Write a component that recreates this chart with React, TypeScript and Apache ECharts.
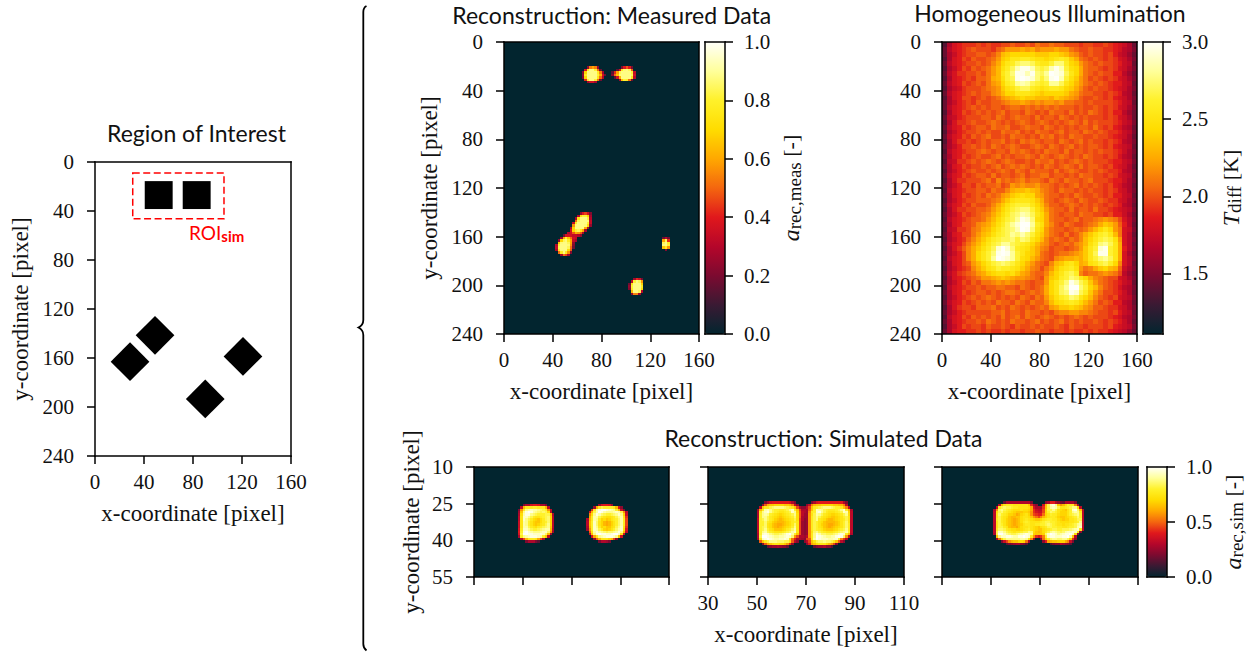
import React, { useEffect, useRef } from "react";
import * as echarts from "echarts";

const HOT = ["#02252f", "#3a1a33", "#7c0a30", "#b5062a", "#e0181c", "#f4660f", "#ffa800", "#ffdc00", "#fff12a", "#ffff9a", "#fffffa"];
const SERIF = "Liberation Serif";
const SANS = "Lato";

// Region of interest: [centre x, centre y, half size]
const roiSquares = [[52, 27, 11.4], [83, 27, 11.4]];
const roiDiamonds = [[49, 141.5, 15.8], [28.6, 163, 15.8], [120.8, 158.7, 15.8], [90, 193.4, 15.8]];
const roiBox = [[30.8, 9, 105.3, 46.4]];

const simXTicks = [30, 50, 70, 90, 110];
const simYTicks = [10, 25, 40, 55];
const tempTicks = [1.5, 2.0, 2.5, 3.0];
const simBarTicks = [0, 0.5, 1.0];

// Amplitudes: one base-36 character per cell (0 -> 0.0, z -> 1.0), "." is empty
const measBlobA = { x: 64, y: 20, rows: ["..8iki8...", ".dqvvrh6..", "7nvxxvqi9.", "8qwyywrlc6", "7nvxxvpha.", ".erwwrh6..", "..9cc9...."] };
const measBlobB = { x: 88, y: 20, rows: ["....7dgd6..", "..5cqtvsg..", "5ekswxyxrb.", "7hmtxyyxsc.", ".5cluwxwpa.", "...9mrqh6.."] };
const measBlobC = { x: 42, y: 138, rows: ["...............", "..........8dfc7", ".........aorrn9", "........9pvxvra", "........hswyxtb", ".......bqvyyvrb", ".......jtxyxto8", "......9nuwwuk9.", "......cnrspk9..", ".....acgkjg9...", "...6cccbba8....", "..8krmhcb......", ".8nstqkb9......", ".mtxwsk8.......", "aryyxtj7.......", "bsyyxsh6.......", "9qwxvog........", ".hquqj7........", "..9hf9........."] };
const measBlobD = { x: 128, y: 160, rows: [".6a6", ".kse", ".sxq", ".txr", ".mqj", "..7."] };
const measBlobE = { x: 102, y: 194, rows: ["..9ec6", ".brwsj", "6pwyvn", "8rxyxq", "7qxywo", ".lvxsa", ".8ii9."] };

// Temperature: one base-36 character per 4x4 cell
const tempRows = [
  "5adefffgfgffgghgghgihhihhgggfggffgfedca6",
  "6bdefghgggfhikkklkljkkklkkihgghggffedba7",
  "6acefgghhghjmnooooonnnoonmkjhghggfgecb96",
  "5adegfhgghiknoqqrrqppopqrqnlihghgfgfdca7",
  "6bdefgghghjloqrtuutrqqsuuronkihghggfecb6",
  "5acegfhghikmprtwyywtstwywspolihhgfgfdca7",
  "6bdffgghgikmqsuyywyutvzyxtqolihghggeeb96",
  "5adefgfhhilmpstyzyxusuyzwspnkighgfgfdca7",
  "6bdegfghgiklorsvwvtsrsvvtqomkihghgfeecb6",
  "5acdfggghijknpqsttrqpqrrqonljhghggfedca7",
  "6bdefghghhjkmooqqqponoooonlkihhggfgfeba6",
  "5adeggfghghiklmnonnmmmlnmlkjhgghgfgedca7",
  "6acefgfhgghhijkklkjkjkkjkiihhghggggfecb6",
  "6bdefghghghhghiihihihihihhhghgghgfgfdca7",
  "5adegfghghghighhgihghgihhgighgihgfgeeb96",
  "6bcefggghhgihghihhgighhgihghghgggfgfdca6",
  "5adffghgghihghghihghihghghihgighgggfecb7",
  "6bdegfghhgihhigghihhgihghghghhgigfgedba6",
  "5acefgghghggihhighgihhghighhgihghgffecb7",
  "6bdegfhghigghgihhghgihighgihhgghggfedca6",
  "5adffgfghghhighgihihghhgihghighggfgfeba7",
  "6acegghghgihghihgghihgihghighghhgfgedcb6",
  "5bdefgghihghhgihihghgihhgighhghghggfeca7",
  "6adegfghgghighghhihgihghihghgihggfgfdba6",
  "5bcffghghihghihgghgihhighghihghgggfeecb7",
  "6adegfgghghighihihghgihghihgighhgfgedca6",
  "5acefghgghghihgihgihhhgighihgghghgffeba7",
  "6bdegfghhgighhghighhiighhghgihhggfgfdcb6",
  "5adffggghigjhihijhiihgihgihhghigggfeeca7",
  "6aceggfhghhighkjkjjkiihghghighghgfgedba6",
  "5bdefgghhgihhjlmmnmljihgihhghghggfgfdca7",
  "6adegfghgihiklnopoolkihhghgihgghgfgeecb6",
  "5acefgghhhijlnpqqqpnlihghihgihgghgffdca7",
  "6bdegfhgghjlnprsssqomjhhghihghghgfgfeba6",
  "5adffgghhikmoqstuuspnkihhgighhgiggfedcb7",
  "6acegfghijlnprtuwvtqolihghhgihhggfgeeca6",
  "5bdefghhikmoqstvyxupolihhghighhijkjigdb7",
  "6adegghjklnprtvxzzvrpljhgihgghijlnmkheb6",
  "5bcffgijlmoqstuwzyuqokihhghihikmoqokidc7",
  "6adeggikmnprstvuwuspnkihgighjlnprsqmidb6",
  "5acefhjlnprsttusutqomjhihgihjmoqstspkdb7",
  "6bdegikmoqstvvtsrqomkjhghihjkmpruvtqldb6",
  "5adfhjlnprtxzxurqpnljighhghiknqsxysqleb7",
  "6acegjloqsuyzyvsqonlihghiijklnqtyysqlda6",
  "5bdegjloqsvzyxvspomkihgjkllmlnqsuvtqldb7",
  "6adeghkmoqstutsqomkihgjmnpqolmpqstrojdb6",
  "5acefgjlnpqsrrqpnljigiknpqrpkijlnomlhca7",
  "6bdfghiklnoppopnlkihhjmoqstrjhiijkjigb96",
  "5adefghikklmnmlkkjihgknorsutqoljihggdca7",
  "6acegfhgiijkjkjiihghhkoqsuywtrnkihgfecb6",
  "5bdefgghghhiihhgihghiloqtvzzusomjhgfdba7",
  "6adegfghhghghiihghihiloqtuyxtrnkiggfeca6",
  "5acefghghihghghgihgihknprsutqomjhgfgdcb7",
  "6bdegfghghgihhgihgihhjmopqrqomkighgeeba6",
  "5adfggfhhhighgihghghihklnnonmkjhhgffdca7",
  "6acefggggghhighhgihhghgijjkkjjihggfgecb6",
  "5bdegfhghghgighigihghihghghihghgggfedba7",
  "6adefgghgihghgihhghighghighghgghgfgfeca6",
  "5acegfggfhgghgfhgghghgghgfhggfgggfgedcb7",
  "6adeeffgfgffgfggfgghggfggfgffgfgffedcb96",
];

// Simulated amplitudes: one base-36 character per 1x1 cell
const simLeftA = { x: 47, y: 25, rows: ["...7aadeedaa7...", "..bmrrrssrrrmb..", ".7krvwxwwvutskb.", ".9nvyzywvututpb.", ".apwyyvutsssttna", ".bqxxvtrqqrstuob", ".bqxvtrponprtuob", ".cqwvsqonnprsuob", ".cqwvsqonoqrtvob", ".cqwwtrqprstuvnb", ".drxxvtsstuvwwma", ".esyzxwvvvwxxuk9", ".dtzzyyxxxyxum9.", ".arvwxyyyxwsnb..", "..agmqrrqlga....", "....7aaa75......"] };
const simLeftB = { x: 76, y: 25, rows: [".....9deed9......", "...9lrtssssrmd8..", "..frwyzzyxwvsmc7.", ".dmtwzywvvvwxwtkb", ".jpvywutsstuvxvoc", ".lrwwtrqppqrtvwqf", "amrwvropnoqrsuwrg", "bnsxuqomlmoqsuwrg", "bnsxuqomlmoqsuwrg", "amsxvropnnpqtvxqf", "9ksxwtronoqsuwxpd", ".hqwywvutuuvwyvmb", ".cnvyzyyxxyzzxqd.", "..dlrvwxyyyxvnc..", "...8hmqqqomg8....", ".....7aa97......"] };
const simMiddle = { x: 50, y: 24, rows: ["...7adeeeeeeeda7......7adeeeeeeeeeea7...", "..9hmnnoooonnmjc8...8cjmnnooooonnmmjb...", ".bnrrtuvvvvutsrnga88bgnrstuvvvutssrnjb..", "9mrwxvtssrrstvxsngaa9hnsxwvtsrrrstvxsma", "arvxyvtsrqqrstxvohba9jrsxyvtrqqqrstxwob", "asvwvsrqpopqrstvphb99kqtwvtrqpoopqrtvpb", "asvvtrqponopqrsupha99krtvtrqponnopqstqb", "bstvtrqonmnopqrtpga89krtvrqpnmmnopqrtqb", "bssurqonmmmnoprsqg989krtsqpnmmmmnoqsuqb", "bssuqpnmllmnopruqg989krtsqonmllmnoqsurb", "bstuqpnmlmnopqsvqg989krtsqpnmlmnopqsurb", "bstvsqpnnnoprsuwqg989krtsrqonnnoprstvrb", "bsvwtsrqqqrstuwxqg989kquvtsrqqqrstuvwsb", "asxyxvuttuvwyzwsng989krvywuutttuvxyxrma", "atzzyxwvvwwxyxukgaa9bkrvzyxwvvwwyzyukb", "9qxyzyxwwxxyxrie9a98ghrwzyxxxwwxxsjfa.", ".hnrtvvvuuuttqhb8..8bgnqtuuvuutrnhb8...", "..8hlnpqqppnkf8.....8elnpqqqomkg8.....", "....6899a9886..........6899a885...."] };
const simRight = { x: 51, y: 24, rows: ["....6aaaaaaaaaa7.....8aeea876aaaa7...", "..bmqrrrqqqqqqnfa8..dmtxyvnkmpsrrj9..", ".brtuttsrrqqqqpldaa9fntwxwtqqrstvvpb.", "akuvtsrqpppqppolfcbbgottvtqponqsxyunb", "bptusrqponnnoonkfdccgosutsqoooqsvwvrb", "bqusrqoonlmopqokgfeeioqsrrpoooqstuvsb", "bqtrqpnmmnnpqqpnkigjmoqrrqonnopqrsusb", "brtrqonmlmnpqrqponnoqrssrrponooqqrttb", "bqtrqonmlmnprsrqqqqrsttssrqppppqqrsvb", "bqtsqonmlmnoqrrqqrrsstutsrqqpqqrstvwb", "bqttrqnmmlnpqqrqponpqrttssrrqqrsstwxb", "bruutrqppoopqrsqponnpqrsttsstttuvwxrb", "btxxvtsrqrrsttvupnmnprtvwvutuwxxyxr8.", "atzzxvuttuvwxyxvonnnouxzyxvwxyyzxp8.", ".nvxxyyxwwyyzyxrkfdfjsxyyxxxyyzwnb..", ".9iptvvvvvvwwvqj9..8iosuvvuuvvtof8..", "...7cgkmnnppoi9.....8elmnnoooljc7...", ".....5789aa875.........5788a9875...."] };

const measBlobs = [measBlobA, measBlobB, measBlobC, measBlobD, measBlobE];

function decodeBlock(block: { x: number; y: number; rows: string[] }, cell: number, scale: (k: number) => number) {
  const out: number[][] = [];
  block.rows.forEach((row, j) => {
    for (let i = 0; i < row.length; i++) {
      if (row[i] === ".") continue;
      out.push([block.x + i * cell, block.y + j * cell, scale(parseInt(row[i], 36))]);
    }
  });
  return out;
}
const unit = (k: number) => k / 35;
const measUnit = (k: number) => Math.min((k / 35) * 1.05, 0.88);
const kelvin = (k: number) => 1.1 + 0.055 * k;

function cellRenderer(size: number) {
  return (_p: any, api: any) => {
    const x = api.value(0);
    const y = api.value(1);
    const a = api.coord([x, y]);
    const b = api.coord([x + size, y + size]);
    const x0 = Math.round(a[0]);
    const y0 = Math.round(a[1]);
    return {
      type: "rect",
      shape: { x: x0, y: y0, width: Math.round(b[0]) - x0, height: Math.round(b[1]) - y0 },
      style: { fill: api.visual("color") },
    };
  };
}

const line = { lineStyle: { color: "#000", width: 1.5, cap: "square" }, onZero: false };
const tick = { show: true, length: 8, lineStyle: { color: "#000", width: 1.5 } };
const labelX = { color: "#111", fontFamily: SERIF, fontSize: 21, margin: 15 };
const labelY = { color: "#111", fontFamily: SERIF, fontSize: 21, margin: 21 };
const labelBar = { color: "#111", fontFamily: SERIF, fontSize: 21, margin: 19 };
const nameStyle = { color: "#111", fontFamily: SERIF, fontSize: 23 };
const barRich = {
  i: { fontFamily: SERIF, fontStyle: "italic", fontSize: 24, color: "#111" },
  s: { fontFamily: SERIF, fontSize: 19, color: "#111", padding: [8, 0, 0, 0] },
  t: { fontFamily: SERIF, fontSize: 22, color: "#111" },
};

function App() {
  const ref = useRef<HTMLDivElement>(null);
  useEffect(() => {
    if (!ref.current) return;
    document.body.style.margin = "0";
    echarts.graphic.registerShape(
      "brace",
      echarts.graphic.extendPath(
        "M366.5 6 C364.5 7 363.3 9 363.3 12 L363.3 320 C363.3 324 361.5 326 358.5 327.5 C361.5 329 363.3 331 363.3 335 L363.3 644 C363.3 647 364.5 649 366.5 650.5",
        {}
      ) as any
    );
    const chart = echarts.init(ref.current, undefined, { renderer: "svg" });

    const grids: any[] = [];
    const xAxes: any[] = [];
    const yAxes: any[] = [];
    const series: any[] = [];

    function addPanel(r: number[], bg: string | null, xCfg: any, yCfg: any) {
      const g = grids.length;
      grids.push({
        left: r[0], top: r[1], width: r[2] - r[0], height: r[3] - r[1],
        show: !!bg, backgroundColor: bg || "transparent", borderWidth: 0,
      });
      const xi = xAxes.length;
      const yi = yAxes.length;
      const xBase = { type: "value", gridIndex: g, min: xCfg.min, max: xCfg.max, splitLine: { show: false }, z: 10 };
      const yBase = { type: "value", gridIndex: g, min: yCfg.min, max: yCfg.max, inverse: yCfg.inverse, splitLine: { show: false }, z: 10 };
      xAxes.push({ ...xBase, position: "bottom", axisLine: line, ...xCfg.main });
      xAxes.push({ ...xBase, position: "top", axisLine: line, axisTick: { show: false }, axisLabel: { show: false } });
      yAxes.push({ ...yBase, position: "left", axisLine: line, ...yCfg.left });
      yAxes.push({ ...yBase, position: "right", axisLine: line, ...(yCfg.right || { axisTick: { show: false }, axisLabel: { show: false } }) });
      return { xi, yi };
    }

    const fullX = () => ({
      min: 0, max: 160,
      main: {
        interval: 40, axisTick: tick, axisLabel: labelX,
        name: "x-coordinate [pixel]", nameLocation: "middle", nameGap: 46, nameTextStyle: nameStyle,
      },
    });
    const fullY = (gap: number) => ({
      min: 0, max: 240, inverse: true,
      left: {
        interval: 40, axisTick: tick, axisLabel: labelY,
        name: "y-coordinate [pixel]", nameLocation: "middle", nameGap: gap, nameTextStyle: nameStyle,
      },
    });
    const simX = (shown: boolean) => ({
      min: 30, max: 110,
      main: {
        axisTick: { ...tick, customValues: simXTicks },
        axisLabel: shown ? { ...labelX, customValues: simXTicks } : { show: false, customValues: simXTicks },
        ...(shown ? { name: "x-coordinate [pixel]", nameLocation: "middle", nameGap: 46, nameTextStyle: nameStyle } : {}),
      },
    });
    const simY = (shown: boolean) => ({
      min: 10, max: 55, inverse: true,
      left: {
        axisTick: { ...tick, customValues: simYTicks },
        axisLabel: shown ? { ...labelY, customValues: simYTicks } : { show: false, customValues: simYTicks },
        ...(shown ? { name: "y-coordinate [pixel]", nameLocation: "middle", nameGap: 51, nameTextStyle: nameStyle } : {}),
      },
    });

    // Region of interest
    const p0 = addPanel([95, 162, 291, 456], null, fullX(), fullY(63));
    series.push({
      type: "custom", xAxisIndex: p0.xi, yAxisIndex: p0.yi, silent: true, data: roiSquares,
      renderItem: (_p: any, api: any) => {
        const [cx, cy, h] = [api.value(0), api.value(1), api.value(2)];
        return { type: "polygon", shape: { points: [[cx - h, cy - h], [cx + h, cy - h], [cx + h, cy + h], [cx - h, cy + h]].map((q) => api.coord(q)) }, style: { fill: "#000" } };
      },
    });
    series.push({
      type: "custom", xAxisIndex: p0.xi, yAxisIndex: p0.yi, silent: true, data: roiDiamonds,
      renderItem: (_p: any, api: any) => {
        const [cx, cy, h] = [api.value(0), api.value(1), api.value(2)];
        return { type: "polygon", shape: { points: [[cx, cy - h], [cx + h, cy], [cx, cy + h], [cx - h, cy]].map((q) => api.coord(q)) }, style: { fill: "#000" } };
      },
    });
    series.push({
      type: "custom", xAxisIndex: p0.xi, yAxisIndex: p0.yi, silent: true, data: roiBox,
      renderItem: (_p: any, api: any) => {
        const a = api.coord([api.value(0), api.value(1)]);
        const b = api.coord([api.value(2), api.value(3)]);
        return { type: "rect", shape: { x: a[0], y: a[1], width: b[0] - a[0], height: b[1] - a[1] }, style: { fill: "none", stroke: "#ff0000", lineWidth: 1.5, lineDash: [7, 3.5] } };
      },
    });

    // Measured
    const p1 = addPanel([504, 42, 699, 334], HOT[0], fullX(), fullY(63));
    const measIdx = series.length;
    series.push({
      type: "custom", xAxisIndex: p1.xi, yAxisIndex: p1.yi, silent: true,
      data: measBlobs.flatMap((b) => decodeBlock(b, 2, measUnit)),
      renderItem: cellRenderer(2), encode: { x: 0, y: 1 },
    });
    // Temperature
    const p2 = addPanel([942, 42, 1137, 334], null, fullX(), {
      min: 0, max: 240, inverse: true,
      left: { interval: 40, axisTick: tick, axisLabel: labelY },
    });
    const tempIdx = series.length;
    series.push({
      type: "custom", xAxisIndex: p2.xi, yAxisIndex: p2.yi, silent: true,
      data: decodeBlock({ x: 0, y: 0, rows: tempRows }, 4, kelvin),
      renderItem: cellRenderer(4), encode: { x: 0, y: 1 },
    });
    // Simulated
    const s0 = addPanel([474, 467, 669, 577], HOT[0], simX(false), simY(true));
    const s1 = addPanel([708, 467, 904, 577], HOT[0], simX(true), simY(false));
    const s2 = addPanel([942, 467, 1138, 577], HOT[0], simX(false), simY(false));
    const simIdx = [series.length, series.length + 1, series.length + 2];
    series.push({
      type: "custom", xAxisIndex: s0.xi, yAxisIndex: s0.yi, silent: true,
      data: [...decodeBlock(simLeftA, 1, unit), ...decodeBlock(simLeftB, 1, unit)],
      renderItem: cellRenderer(1), encode: { x: 0, y: 1 },
    });
    series.push({
      type: "custom", xAxisIndex: s1.xi, yAxisIndex: s1.yi, silent: true,
      data: decodeBlock(simMiddle, 1, unit), renderItem: cellRenderer(1), encode: { x: 0, y: 1 },
    });
    series.push({
      type: "custom", xAxisIndex: s2.xi, yAxisIndex: s2.yi, silent: true,
      data: decodeBlock(simRight, 1, unit), renderItem: cellRenderer(1), encode: { x: 0, y: 1 },
    });

    // Colour bars (ticks and frame as axes, gradient from visualMap)
    function addBar(r: number[], min: number, max: number, right: any) {
      addPanel(r, null, { min: 0, max: 1, main: { axisTick: { show: false }, axisLabel: { show: false } } }, {
        min, max,
        left: { axisTick: { show: false }, axisLabel: { show: false } },
        right: {
          axisTick: tick,
          axisLabel: { ...labelBar, formatter: (v: number) => v.toFixed(1) },
          nameLocation: "middle", nameRotate: 90, nameTextStyle: { rich: barRich },
          ...right,
        },
      });
    }
    addBar([705, 42, 725, 334], 0, 1, { interval: 0.2, name: "{i|a}{s|rec,meas}{t| [-]}", nameGap: 52 });
    addBar([1143, 42, 1163, 334], 1.107, 3, {
      axisTick: { ...tick, customValues: tempTicks },
      axisLabel: { ...labelBar, formatter: (v: number) => v.toFixed(1), customValues: tempTicks },
      name: "{i|T}{s|diff}{t| [K]}", nameGap: 54,
    });
    addBar([1147, 467, 1167, 577], 0, 1, {
      axisTick: { ...tick, customValues: simBarTicks },
      axisLabel: { ...labelBar, formatter: (v: number) => v.toFixed(1), customValues: simBarTicks },
      name: "{i|a}{s|rec,sim}{t| [-]}", nameGap: 52,
    });

    const vm = (seriesIndex: any, min: number, max: number, r: number[]) => ({
      type: "continuous", seriesIndex, dimension: 2, min, max, padding: 0,
      left: r[0], top: r[1], itemWidth: r[2] - r[0], itemHeight: r[3] - r[1],
      inRange: { color: HOT }, calculable: false, hoverLink: false, show: true, z: 4,
    });

    const titleStyle = { color: "#111", fontFamily: SANS, fontSize: 23, fontWeight: "normal" };
    const title = (text: string, cx: number, top: number) => ({ text, left: cx, top, textAlign: "center", textStyle: titleStyle, padding: 0 });

    chart.setOption({
      animation: false,
      title: [
        title("Region of Interest", 196.5, 121),
        title("Reconstruction: Measured Data", 611.7, 3),
        title("Homogeneous Illumination", 1050, 1),
        title("Reconstruction: Simulated Data", 823.5, 426),
      ],
      grid: grids,
      xAxis: xAxes,
      yAxis: yAxes,
      series,
      visualMap: [
        vm(measIdx, 0, 1, [705, 42, 725, 334]),
        vm(tempIdx, 1.107, 3, [1143, 42, 1163, 334]),
        vm(simIdx, 0, 1, [1147, 467, 1167, 577]),
      ],
      graphic: [
        { type: "brace", x: 0, y: 0, style: { fill: "none", stroke: "#000", lineWidth: 1.8 } },
        {
          type: "text", left: 189, top: 223,
          style: {
            text: "{r|ROI}{b|sim}",
            rich: {
              r: { fontFamily: SANS, fontSize: 19, fill: "#ff0000" },
              b: { fontFamily: SANS, fontSize: 15, fontWeight: "bold", fill: "#ff0000", padding: [6, 0, 0, 0] },
            },
          },
        },
      ],
    });
    return () => chart.dispose();
  }, []);
  return <div ref={ref} style={{ position: "absolute", left: 0, top: 0, width: 1260, height: 652 }} />;
}

export default App;
